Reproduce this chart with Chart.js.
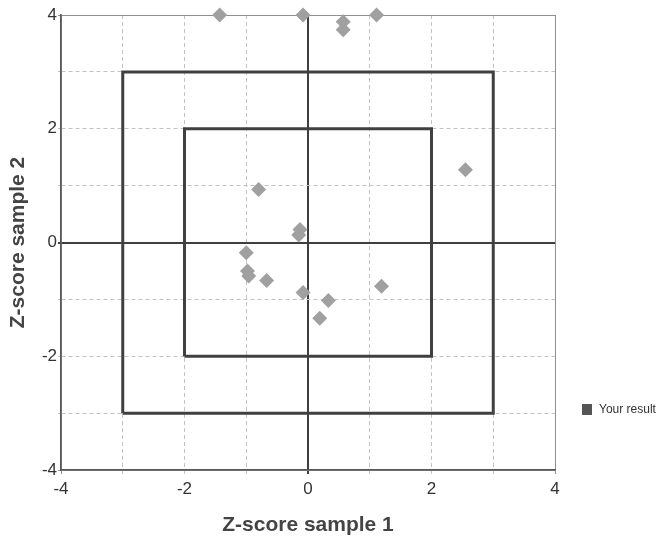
<!DOCTYPE html>
<html>
<head>
<meta charset="utf-8">
<script src="https://cdn.jsdelivr.net/npm/chart.js@4.4.1/dist/chart.umd.min.js"></script>
<style>
  html, body { margin: 0; padding: 0; background: #fff; }
</style>
</head>
<body>
<canvas id="myChart" width="666" height="542"></canvas>
<script>
// z-scores
const sample1 = [-1.43, -0.08, 0.57, 0.57, 1.11, 2.55, -0.80, -0.13, -0.15, -1.00, -0.98, -0.96, -0.67, -0.08, 0.33, 0.19, 1.19];
const sample2 = [4.00, 4.00, 3.88, 3.74, 4.00, 1.28, 0.93, 0.23, 0.13, -0.18, -0.50, -0.59, -0.67, -0.88, -1.02, -1.33, -0.77];
const innerLimit = 2;
const outerLimit = 3;
const axisMin = -4;
const axisMax = 4;
const tickLabels = [-4, -2, 0, 2, 4];
const legendLabel = 'Your result';

const FONT = "'Liberation Sans', Arial, sans-serif";

var points = [];
for (var i = 0; i < sample1.length; i++) {
  points.push({ x: sample1[i], y: sample2[i] });
}

function box(l) {
  return [{x: -l, y: -l}, {x: -l, y: l}, {x: l, y: l}, {x: l, y: -l}, {x: -l, y: -l}];
}

function gridColor(c) {
  if (c.tick.value === 0) return '#3f3f3f';
  if (Math.abs(c.tick.value) === axisMax) return '#8f8f8f';
  return '#c2c2c2';
}

function gridDash(c) {
  if (!c.tick || c.tick.value === 0 || Math.abs(c.tick.value) === axisMax) return [];
  return [4, 3];
}

const legendPlugin = {
  id: 'sideLegend',
  afterDraw(chart) {
    const ctx = chart.ctx;
    ctx.save();
    ctx.fillStyle = '#555';
    ctx.fillRect(582, 404, 10, 11);
    ctx.fillStyle = '#333';
    ctx.font = '12px ' + FONT;
    ctx.textBaseline = 'middle';
    ctx.fillText(legendLabel, 599, 410);
    ctx.restore();
  }
};

const bgPlugin = {
  id: 'bg',
  beforeDraw(chart) {
    const ctx = chart.ctx;
    ctx.save();
    ctx.fillStyle = '#fff';
    ctx.fillRect(0, 0, chart.width, chart.height);
    ctx.restore();
  }
};

var ctx = document.getElementById('myChart').getContext('2d');
var chart = new Chart(ctx, {
  type: 'scatter',
  data: {
    datasets: [
      {
        label: 'Results',
        data: points,
        pointStyle: 'rectRot',
        pointRadius: 7.5,
        backgroundColor: '#a0a0a0',
        borderColor: '#a0a0a0',
        borderWidth: 0,
        clip: false
      },
      {
        label: 'inner',
        data: box(innerLimit),
        showLine: true,
        borderColor: '#404040',
        borderWidth: 3,
        pointRadius: 0,
        fill: false
      },
      {
        label: 'outer',
        data: box(outerLimit),
        showLine: true,
        borderColor: '#404040',
        borderWidth: 3,
        pointRadius: 0,
        fill: false
      }
    ]
  },
  options: {
    responsive: false,
    animation: false,
    devicePixelRatio: 1,
    layout: { padding: { left: 0, top: 15, right: 111, bottom: 0 } },
    plugins: {
      legend: { display: false },
      tooltip: { enabled: false }
    },
    scales: {
      x: {
        type: 'linear',
        min: axisMin,
        max: axisMax,
        afterFit(s) { s.height = 72; },
        ticks: {
          stepSize: 1,
          color: '#333',
          padding: 5,
          maxRotation: 0,
          font: { family: FONT, size: 17 },
          callback: v => tickLabels.includes(v) ? String(v) : ''
        },
        grid: { color: gridColor, lineWidth: c => c.tick.value === 0 ? 2 : 1, tickLength: 4 },
        border: { color: '#555', width: 1.5, dash: gridDash },
        title: {
          display: true,
          text: 'Z-score sample 1',
          color: '#444',
          font: { family: FONT, size: 21, weight: 'bold' },
          padding: { top: 4, bottom: 4 }
        }
      },
      y: {
        type: 'linear',
        min: axisMin,
        max: axisMax,
        afterFit(s) { s.width = 61; },
        ticks: {
          stepSize: 1,
          color: '#333',
          padding: 1,
          font: { family: FONT, size: 17 },
          callback: v => tickLabels.includes(v) ? String(v) : ''
        },
        grid: { color: gridColor, lineWidth: c => c.tick.value === 0 ? 2 : 1, tickLength: 3 },
        border: { color: '#555', width: 1.5, dash: gridDash },
        title: {
          display: true,
          text: 'Z-score sample 2',
          color: '#444',
          font: { family: FONT, size: 21, weight: 'bold' },
          padding: { top: 6, bottom: 4 }
        }
      }
    }
  },
  plugins: [bgPlugin, legendPlugin]
});
</script>
</body>
</html>
